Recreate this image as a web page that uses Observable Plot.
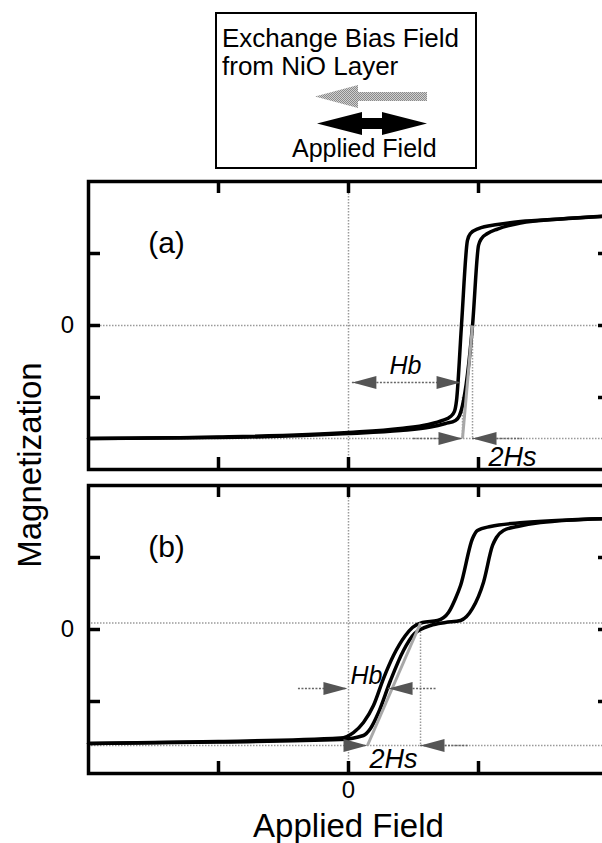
<!DOCTYPE html>
<html>
<head>
<meta charset="utf-8">
<script src="https://cdn.jsdelivr.net/npm/d3@7"></script>
<script src="https://cdn.jsdelivr.net/npm/@observablehq/plot@0.6"></script>
<style>
html, body { margin: 0; padding: 0; background: #fff; overflow: hidden; width: 602px; height: 843px; }
#wrap { position: relative; width: 602px; height: 843px; overflow: hidden; font-family: "Liberation Sans", Arial, Helvetica, sans-serif; }
.abs { position: absolute; }
#pa, #pb { width: 620px; }
#pa svg, #pb svg { max-width: none !important; display: block; }
</style>
</head>
<body>
<div id="wrap">
  <svg class="abs" style="left:0;top:0" width="602" height="843" font-family="Liberation Sans, Arial, sans-serif">
    <defs>
      <pattern id="stip" width="2" height="2" patternUnits="userSpaceOnUse">
        <rect width="2" height="2" fill="#d0d0d0"/>
        <rect width="1" height="1" fill="#8a8a8a"/>
        <rect x="1" y="1" width="1" height="1" fill="#8a8a8a"/>
      </pattern>
    </defs>
    <rect x="216" y="13" width="260" height="155" fill="none" stroke="#000" stroke-width="2"/>
    <text x="222" y="47" font-size="26">Exchange Bias Field</text>
    <text x="222" y="75" font-size="26">from NiO Layer</text>
    <polygon points="315,96.5 358,85 358,92 427,92 427,101 358,101 358,108" fill="url(#stip)"/>
    <polygon points="317,123.5 362,112 362,118 382,118 382,112 427,123.5 382,135 382,129 362,129 362,135" fill="#000"/>
    <text x="292" y="157" font-size="25">Applied Field</text>
    <text transform="translate(41,465) rotate(-90)" text-anchor="middle" font-size="33">Magnetization</text>
  </svg>
  <div id="pa" class="abs" style="left:0;top:170px"></div>
  <div id="pb" class="abs" style="left:0;top:476px"></div>
</div>
<script>
// ---- axes ----
const xDomain = [-2, 2];
const yDomain = [-2, 2];
const xTicks = [-1, 0, 1];
const yTicks = [-1, 0, 1];
const xTickLabels = [0];
const yTickLabels = [0];

// ---- panel (a) data ----
const aLeftX  = [-2, -1, 0, 0.4, 0.615, 0.723, 0.785, 0.815, 0.831, 0.869, 0.915, 0.938, 1.0, 1.146, 1.323, 1.631, 2.0];
const aLeftY  = [-1.569, -1.549, -1.486, -1.431, -1.375, -1.319, -1.264, -1.194, -1.042, 0, 1.181, 1.278, 1.347, 1.403, 1.444, 1.479, 1.521];
const aRightX = [-2, -1, 0, 0.4, 0.631, 0.746, 0.823, 0.854, 0.877, 0.954, 1.0, 1.023, 1.069, 1.146, 1.323, 1.631, 2.0];
const aRightY = [-1.569, -1.556, -1.5, -1.458, -1.41, -1.361, -1.319, -1.25, -1.111, 0, 1.111, 1.208, 1.278, 1.34, 1.424, 1.479, 1.521];
const aRefY = 0, aSatY = -1.569;
const aVLines = [{x: 0.954, y1: 0, y2: -1.569}, {x: 0.877, y1: -1.0, y2: -1.569}];
const aTangent = {x1: 0.954, y1: 0, x2: 0.877, y2: -1.569};
const aShafts = [{x1: 0.03, x2: 0.862, y: -0.792}, {x1: 0.5, x2: 0.877, y: -1.569}, {x1: 0.954, x2: 1.338, y: -1.569}];
const aHeads = [{x: 0.03, y: -0.792, dir: "left"}, {x: 0.862, y: -0.792, dir: "right"}, {x: 0.877, y: -1.569, dir: "right"}, {x: 0.954, y: -1.569, dir: "left"}];
const aPanelLabel = [{x: -1.4, y: 1.14, t: "(a)"}];
const aItalic = [{x: 0.438, y: -0.556, t: "Hb", s: 25}, {x: 1.262, y: -1.833, t: "2Hs", s: 27}];

// ---- panel (b) data ----
const bLeftX  = [-2, -1, -0.062, 0.038, 0.115, 0.192, 0.269, 0.346, 0.438, 0.492, 0.569, 0.685, 0.769, 0.823, 0.862, 0.954, 0.992, 1.092, 1.346, 2.0];
const bLeftY  = [-1.583, -1.556, -1.507, -1.431, -1.292, -1.056, -0.681, -0.361, -0.083, 0.028, 0.097, 0.125, 0.236, 0.431, 0.611, 1.264, 1.375, 1.431, 1.486, 1.542];
const bRightX = [-2, -1, -0.062, 0.115, 0.169, 0.231, 0.323, 0.423, 0.508, 0.554, 0.631, 0.746, 0.862, 0.954, 1.038, 1.108, 1.138, 1.192, 1.3, 1.477, 2.0];
const bRightY = [-1.583, -1.563, -1.528, -1.472, -1.375, -1.153, -0.708, -0.292, -0.056, 0, 0.056, 0.097, 0.125, 0.292, 0.653, 1.167, 1.278, 1.375, 1.431, 1.486, 1.542];
const bRefY = 0.09, bSatY = -1.611;
const bVLines = [{x: 0.554, y1: 0.09, y2: -1.611}];
const bTangent = {x1: 0.554, y1: 0.09, x2: 0.146, y2: -1.611};
const bShafts = [{x1: -0.385, x2: -0.008, y: -0.819}, {x1: 0.308, x2: 0.685, y: -0.819}, {x1: 0.554, x2: 0.923, y: -1.611}];
const bHeads = [{x: -0.008, y: -0.819, dir: "right"}, {x: 0.308, y: -0.819, dir: "left"}, {x: 0.146, y: -1.611, dir: "right"}, {x: 0.554, y: -1.611, dir: "left"}];
const bPanelLabel = [{x: -1.4, y: 1.14, t: "(b)"}];
const bItalic = [{x: 0.138, y: -0.639, t: "Hb", s: 25}, {x: 0.346, y: -1.806, t: "2Hs", s: 27}];

// ---- geometry ----
const W = 620, ML = 88, MR = 12, PH = 288;
const ux = (W - ML - MR) / (xDomain[1] - xDomain[0]);
const uy = PH / (yDomain[1] - yDomain[0]);
const tickLen = 12;

const headSymbol = {
  draw(ctx) { ctx.moveTo(0, 0); ctx.lineTo(-24, -6.5); ctx.lineTo(-24, 6.5); ctx.closePath(); }
};
const greyDot = {stroke: "#9a9a9a", strokeWidth: 1.5, strokeDasharray: "1.5,1.5"};

function panel(cfg) {
  const branches = [
    ...cfg.leftX.map((x, i) => ({x, y: cfg.leftY[i], b: "L"})),
    ...cfg.rightX.map((x, i) => ({x, y: cfg.rightY[i], b: "R"}))
  ];
  const marks = [
    Plot.ruleY([cfg.refY, cfg.satY], {y: d => d, ...greyDot}),
    Plot.ruleX([0], {x: d => d, ...greyDot}),
    Plot.ruleX(cfg.vLines, {x: "x", y1: "y1", y2: "y2", ...greyDot}),
    Plot.line(branches, {x: "x", y: "y", z: "b", stroke: "#000", strokeWidth: 3.5, curve: "monotone-x"}),
    Plot.link([cfg.tangent], {x1: "x1", y1: "y1", x2: "x2", y2: "y2", stroke: "#a8a8a8", strokeWidth: 3}),
    Plot.ruleY(cfg.shafts, {x1: "x1", x2: "x2", y: "y", stroke: "#666", strokeWidth: 1.5, strokeDasharray: "2,1.5"}),
    Plot.dot(cfg.heads, {x: "x", y: "y", symbol: headSymbol, rotate: d => d.dir === "left" ? 180 : 0, fill: "#555", stroke: "none"}),
    Plot.text(cfg.panelLabel, {x: "x", y: "y", text: "t", fontSize: 30, fill: "#000"}),
    Plot.text(cfg.italic, {x: "x", y: "y", text: "t", fontSize: d => d.s, fontStyle: "italic", fill: "#000"}),
    Plot.frame({stroke: "#000", strokeWidth: 3.5}),
    Plot.ruleX(xTicks, {x: d => d, y1: () => yDomain[0], y2: () => yDomain[0] + tickLen / uy, stroke: "#000", strokeWidth: 3.5}),
    Plot.ruleX(xTicks, {x: d => d, y1: () => yDomain[1] - tickLen / uy, y2: () => yDomain[1], stroke: "#000", strokeWidth: 3.5}),
    Plot.ruleY(yTicks, {y: d => d, x1: () => xDomain[0], x2: () => xDomain[0] + tickLen / ux, stroke: "#000", strokeWidth: 3.5}),
    Plot.ruleY(yTicks, {y: d => d, x1: () => xDomain[1] - 10 / ux, x2: () => xDomain[1], stroke: "#000", strokeWidth: 3.5}),
    Plot.text(yTickLabels, {x: () => xDomain[0], y: d => d, dx: -21, text: d => String(d), fontSize: 24, textAnchor: "middle", fill: "#000"})
  ];
  if (cfg.bottom) {
    marks.push(Plot.text(xTickLabels, {x: d => d, y: () => yDomain[0], dy: 17, text: d => String(d), fontSize: 24, textAnchor: "middle", fill: "#000"}));
    marks.push(Plot.text(["Applied Field"], {x: () => 0, y: () => yDomain[0], dy: 53, text: d => d, fontSize: 33, textAnchor: "middle", fill: "#000"}));
  }
  return Plot.plot({
    width: W,
    height: cfg.height,
    marginLeft: ML,
    marginRight: MR,
    marginTop: cfg.mt,
    marginBottom: cfg.mb,
    x: {domain: xDomain, axis: null},
    y: {domain: yDomain, axis: null},
    style: {fontFamily: "Liberation Sans, Arial, sans-serif", background: "transparent", overflow: "visible", maxWidth: "none"},
    marks
  });
}

document.getElementById("pa").appendChild(panel({
  leftX: aLeftX, leftY: aLeftY, rightX: aRightX, rightY: aRightY,
  refY: aRefY, satY: aSatY, vLines: aVLines, tangent: aTangent,
  shafts: aShafts, heads: aHeads, panelLabel: aPanelLabel, italic: aItalic,
  height: 310, mt: 11, mb: 11, bottom: false
}));
document.getElementById("pb").appendChild(panel({
  leftX: bLeftX, leftY: bLeftY, rightX: bRightX, rightY: bRightY,
  refY: bRefY, satY: bSatY, vLines: bVLines, tangent: bTangent,
  shafts: bShafts, heads: bHeads, panelLabel: bPanelLabel, italic: bItalic,
  height: 367, mt: 9, mb: 70, bottom: true
}));
</script>
</body>
</html>
